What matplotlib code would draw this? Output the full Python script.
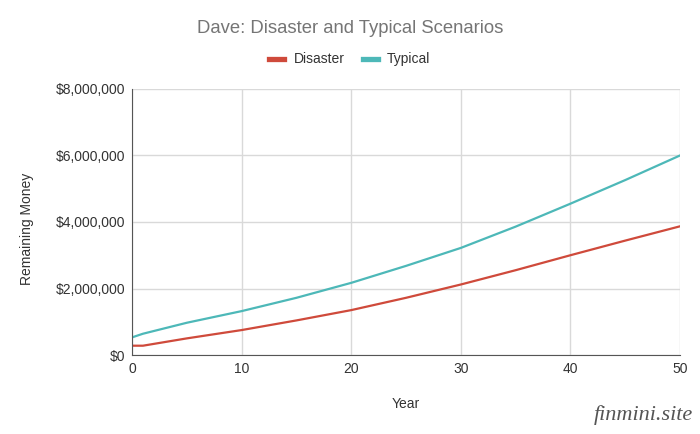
import matplotlib.pyplot as plt
from matplotlib.ticker import FuncFormatter

plt.rcParams["font.family"] = ["Liberation Sans", "DejaVu Sans"]

# Data (values in dollars)
years = [0, 1, 5, 10, 15, 20, 25, 30, 35, 40, 45, 50]
disaster = [280000, 280000, 500000, 750000, 1040000, 1350000, 1720000, 2120000, 2550000, 3000000, 3440000, 3870000]
typical = [530000, 640000, 970000, 1320000, 1720000, 2170000, 2680000, 3220000, 3860000, 4550000, 5260000, 6000000]

fig = plt.figure(figsize=(7, 4.34), dpi=100)
ax = fig.add_axes([0.1886, 0.182, 0.7828, 0.613])

ax.plot(years, disaster, color="#cf4a3b", lw=1.6, label="Disaster")
ax.plot(years, typical, color="#4db8b8", lw=1.6, label="Typical")

ax.set_xlim(0, 50)
ax.set_ylim(0, 8000000)
ax.set_xticks([0, 10, 20, 30, 40, 50])
ax.set_yticks([0, 2000000, 4000000, 6000000, 8000000])
ax.yaxis.set_major_formatter(FuncFormatter(lambda v, p: "${:,.0f}".format(v)))
ax.grid(True, color="#d9d9d9", lw=1)
ax.set_axisbelow(True)
for s in ["top", "right"]:
    ax.spines[s].set_visible(False)
ax.spines["left"].set_color("#555555")
ax.spines["bottom"].set_color("#555555")
ax.tick_params(length=0, labelsize=10, colors="#333333", pad=5)

ax.set_xlabel("Year", fontsize=10, color="#333333", labelpad=15)
ax.set_ylabel("Remaining Money", fontsize=10, color="#333333")
ax.yaxis.set_label_coords(-0.179, 0.475)

fig.text(0.5, 0.935, "Dave: Disaster and Typical Scenarios", ha="center", va="center",
         fontsize=13.3, color="#757575")
fig.legend(loc="center", bbox_to_anchor=(0.5, 0.864), ncol=2, frameon=False,
           fontsize=10, handlelength=1.08, handleheight=0.5, columnspacing=1.35,
           handletextpad=0.65, labelcolor="#333333")
leg = fig.legends[0]
for line in leg.get_lines():
    line.set_linewidth(3.8)

fig.text(0.99, 0.044, "finmini.site", ha="right", va="center", fontsize=16,
         family="Liberation Serif", style="italic", color="#555555")

plt.savefig("out.png", dpi=100)
